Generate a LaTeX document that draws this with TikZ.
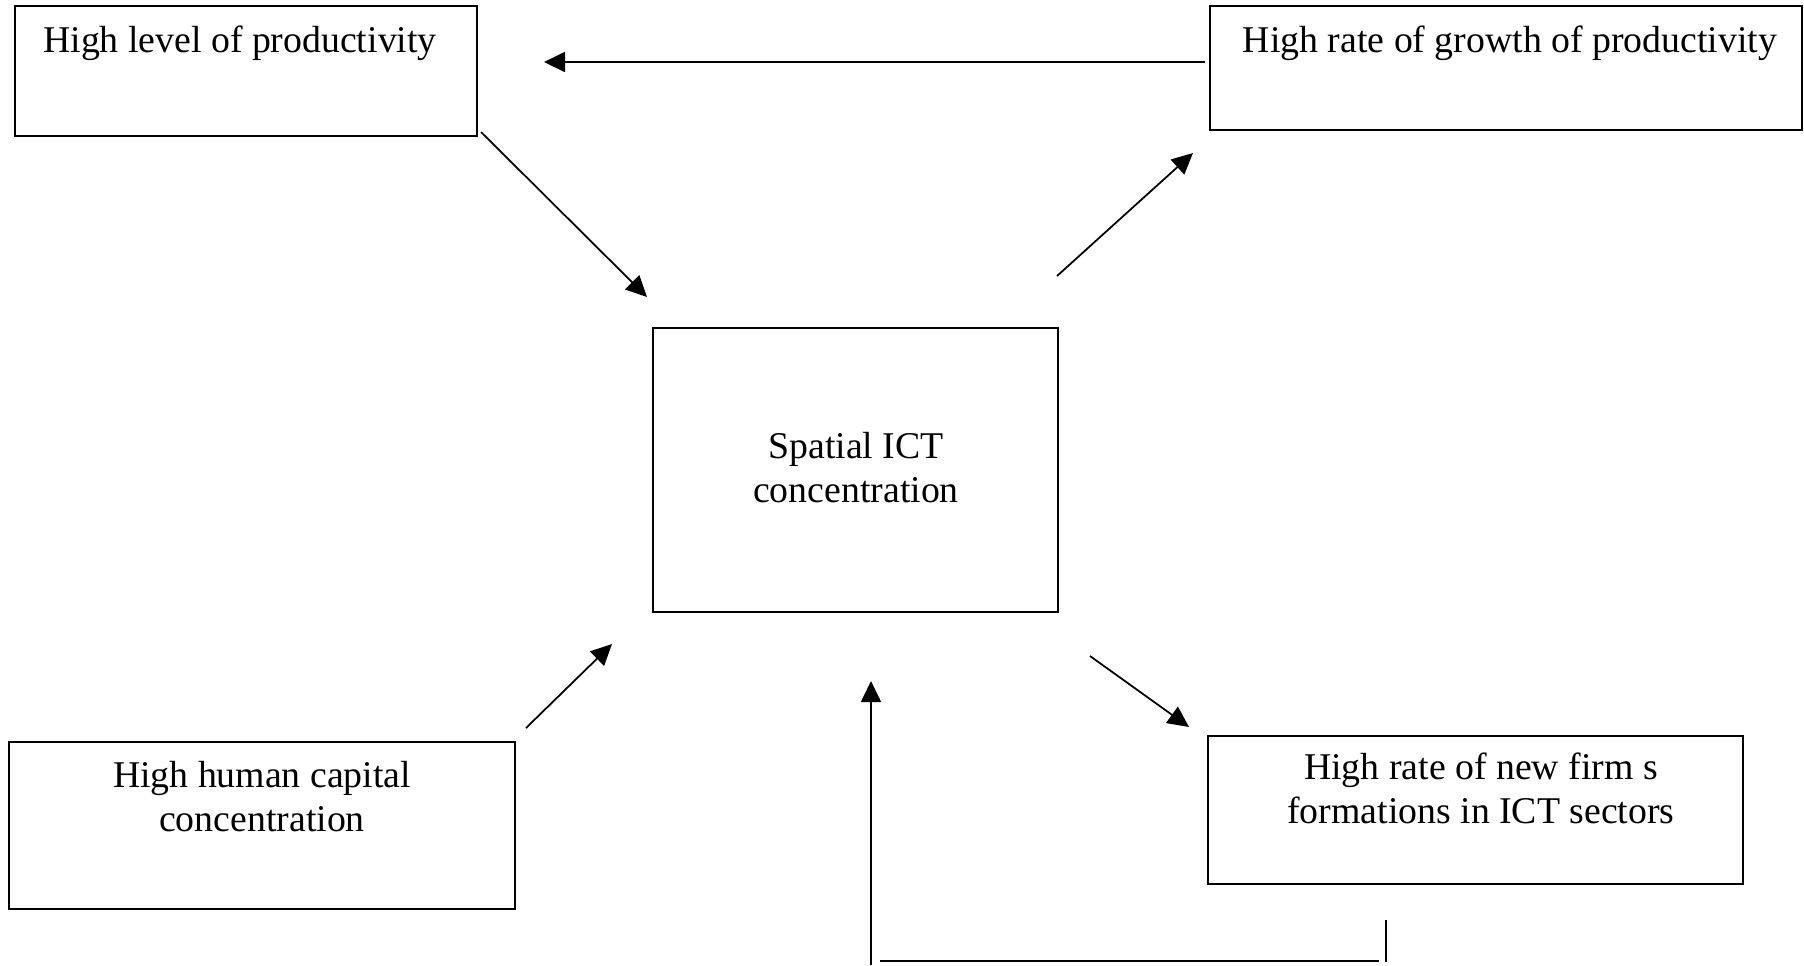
\documentclass[tikz,border=0pt]{standalone}
\usepackage{fontspec}
\setmainfont{Liberation Serif}
\usetikzlibrary{arrows.meta}

\begin{document}
\begin{tikzpicture}[x=0.1mm,y=-0.1mm,
  main/.style = {draw, rectangle, line width=0.55pt, inner sep=0pt},
  txt/.style = {inner sep=0pt, align=center, font=\fontsize{10.75}{12.5}\selectfont},
  arr/.style = {line width=0.5pt, -{Triangle[length=2.1mm,width=2mm]}},
  ln/.style = {line width=0.5pt}]
\useasboundingbox (0,0) rectangle (1804,965);
\node[main, minimum width=46.2mm, minimum height=13mm] (1) at (246,71) {};
\node[main, minimum width=59.2mm, minimum height=12.4mm] (2) at (1506,68) {};
\node[main, minimum width=40.5mm, minimum height=28.4mm] (3) at (855.5,470) {};
\node[main, minimum width=50.6mm, minimum height=16.7mm] (4) at (262,825.5) {};
\node[main, minimum width=53.5mm, minimum height=14.8mm] (5) at (1475.5,810) {};
\node[txt, anchor=base] (t1) at (240,52) {High level of productivity};
\node[txt, anchor=base] (t2) at (1510,52) {High rate of growth of productivity};
\node[txt, anchor=north] (t3) at (856,432) {Spatial ICT\\concentration};
\node[txt, anchor=north] (t4) at (262,761) {High human capital\\concentration};
\node[txt, anchor=north] (t5) at (1481,752) {High rate of new firm s\\formations in ICT sectors};
\coordinate (a2) at (1205,62);
\coordinate (a1) at (544,62);
\coordinate (b1) at (481,132);
\coordinate (b3) at (647,297);
\coordinate (c3) at (1057,276);
\coordinate (c2) at (1193,153);
\coordinate (d4) at (526,728);
\coordinate (d3) at (612,644);
\coordinate (e3) at (1090,656);
\coordinate (e5) at (1189,727);
\coordinate (f5) at (1386,920);
\coordinate (f1) at (1386,962);
\coordinate (f2) at (1379,961);
\coordinate (f3) at (880,961);
\coordinate (f4) at (871,965);
\coordinate (f6) at (871,681);
\draw[arr] (a2) -- (a1);
\draw[arr] (b1) -- (b3);
\draw[arr] (c3) -- (c2);
\draw[arr] (d4) -- (d3);
\draw[arr] (e3) -- (e5);
\draw[ln] (f5) -- (f1);
\draw[ln] (f2) -- (f3);
\draw[arr] (f4) -- (f6);
\end{tikzpicture}
\end{document}
